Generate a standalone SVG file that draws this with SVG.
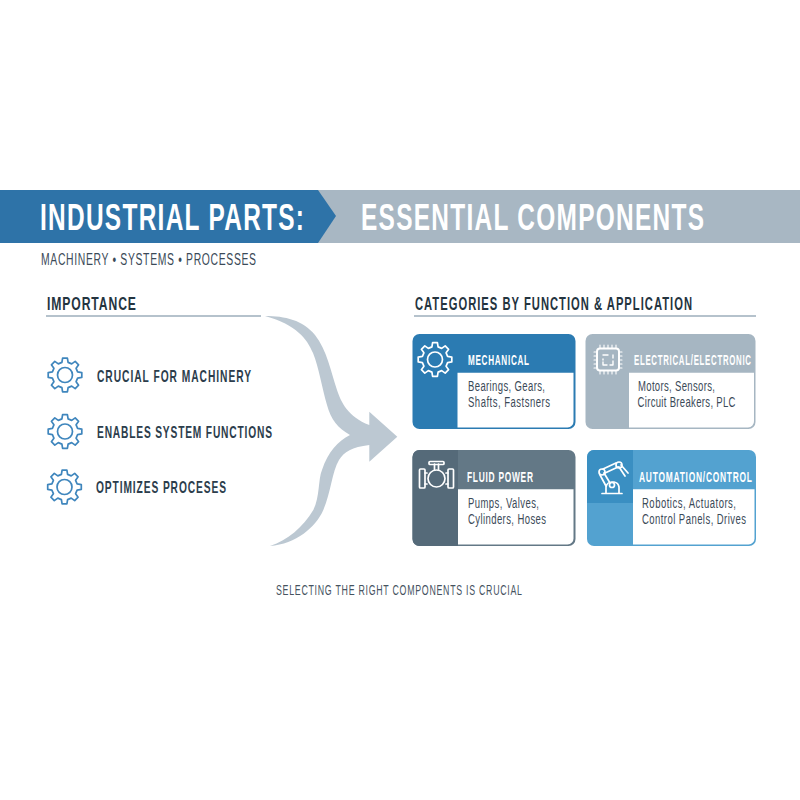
<svg xmlns="http://www.w3.org/2000/svg" width="800" height="800" viewBox="0 0 800 800">
<style>
text{font-family:"Liberation Sans",Arial,sans-serif}
.title{font-size:37px;font-weight:bold;fill:#fff}
.sub{font-size:16.5px;fill:#3b4a58}
.head{font-size:19px;font-weight:bold;fill:#24343f}
.item{font-size:16.5px;font-weight:bold;fill:#2c3d4c}
.ct{font-size:14px;font-weight:bold;fill:#fff}
.cb{font-size:14px;fill:#3b4a58}
.foot{font-size:14px;fill:#46535f}
.rule{stroke:#b5c2cc;stroke-width:2;fill:none}
.gear{fill:none;stroke-width:1.7;stroke-linejoin:round}
.ico{fill:none;stroke:#fff;stroke-width:1.7;stroke-linejoin:round;stroke-linecap:round}
</style>
<defs>
<g id="gear">
<path d="M12.6-3.1L16.8-2.4L16.8 2.4L12.6 3.1L11.1 6.7L13.6 10.2L10.2 13.6L6.7 11.1L3.1 12.6L2.4 16.8L-2.4 16.8L-3.1 12.6L-6.7 11.1L-10.2 13.6L-13.6 10.2L-11.1 6.7L-12.6 3.1L-16.8 2.4L-16.8-2.4L-12.6-3.1L-11.1-6.7L-13.6-10.2L-10.2-13.6L-6.7-11.1L-3.1-12.6L-2.4-16.8L2.4-16.8L3.1-12.6L6.7-11.1L10.2-13.6L13.6-10.2L11.1-6.7Z"/>
<circle r="7.5"/>
</g>
</defs>
<rect width="800" height="800" fill="#fff"/>
<g id="banner">
<rect x="300" y="190" width="500" height="53" fill="#a8b7c3"/>
<polygon points="0,190 318,190 336,216 318,243 0,243" fill="#2e73a8"/>
<text class="title" transform="translate(40 230) scale(.66 1)" textLength="400">INDUSTRIAL PARTS:</text>
<text class="title" transform="translate(361 230) scale(.66 1)" textLength="519.7">ESSENTIAL COMPONENTS</text>
<text class="sub" transform="translate(41 265) scale(.63 1)" textLength="341.3">MACHINERY • SYSTEMS • PROCESSES</text>
</g>
<g id="importance">
<text class="head" transform="translate(47 310) scale(.64 1)" textLength="139">IMPORTANCE</text>
<path class="rule" d="M46 316H261"/>
</g>
<g id="item-1">
<use href="#gear" x="65" y="375" class="gear" stroke="#3f86bd"/>
<text class="item" transform="translate(97 382) scale(.62 1)" textLength="248.400">CRUCIAL FOR MACHINERY</text>
</g>
<g id="item-2">
<use href="#gear" x="65" y="431.5" class="gear" stroke="#3f86bd"/>
<text class="item" transform="translate(97 437.500) scale(.62 1)" textLength="282.300">ENABLES SYSTEM FUNCTIONS</text>
</g>
<g id="item-3">
<use href="#gear" x="64.5" y="487" class="gear" stroke="#3f86bd"/>
<text class="item" transform="translate(96 493) scale(.62 1)" textLength="209.700">OPTIMIZES PROCESES</text>
</g>
<g id="connectors">
<path fill="#bcc8d2" d="M265 316C285 316 303 320 315 335C327 350 331 372 337 390C341 402 348 417 369.3 425V411.7L397.3 436.7L369.3 461.7V445C352 447 344 452 339 460C332 472 331 492 323.3 510C316 527 296 544 270 546C288 540 303 527 313.3 510C320 497 318 479 322 470C328 452 338 441 350 435C338 428 331 420 327 405C322 388 319 368 313 353C307 339 297 325 265 316Z"/>
</g>
<g id="categories">
<text class="head" transform="translate(415 310) scale(.64 1)" textLength="432.800" style="font-size:17.5px">CATEGORIES BY FUNCTION &amp; APPLICATION</text>
<path class="rule" d="M414 316H756"/>
</g>
<g id="card-mechanical">
<rect x="412.5" y="334" width="163" height="95" rx="7" fill="#2b7bb2"/>
<path d="M457.5 372.7H573.5V421a6 6 0 0 1-6 6.5H457.5Z" fill="#fff"/>
<use href="#gear" x="435" y="359.5" class="gear" stroke="#fff"/>
<text class="ct" transform="translate(468 365) scale(.58 1)" textLength="105.200">MECHANICAL</text>
<text class="cb" transform="translate(468 391) scale(.68 1)" textLength="113.200">Bearings, Gears,</text>
<text class="cb" transform="translate(468 407) scale(.68 1)" textLength="120.600">Shafts, Fastsners</text>
</g>
<g id="card-electrical">
<rect x="585.5" y="334" width="170" height="95" rx="7" fill="#a6b6c2"/>
<path d="M629 372.7H754V421a6 6 0 0 1-6 6.5H629Z" fill="#fff"/>
<g class="ico">
<rect x="597" y="348.500" width="22" height="22" rx="3" stroke-width="2"/>
<path d="M603 355h5M613 355v3M613 361v4h-3M607 365h-4v-3M603 360v-1" stroke-width="1.4"/>
<path d="M600 348v-3M604 348v-3M608 348v-3M612 348v-3M616 348v-3M600 371v3M604 371v3M608 371v3M612 371v3M616 371v3M597 352h-3M597 356h-3M597 360h-3M597 364h-3M597 368h-3M619 352h3M619 356h3M619 360h3M619 364h3M619 368h3" stroke-width="1.100"/>
</g>
<text class="ct" transform="translate(634 365) scale(.56 1)" textLength="208.900">ELECTRICAL/ELECTRONIC</text>
<text class="cb" transform="translate(638 391) scale(.68 1)" textLength="113.200">Motors, Sensors,</text>
<text class="cb" transform="translate(637.5 407) scale(.68 1)" textLength="144.100">Circuit Breakers, PLC</text>
</g>
<g id="card-fluid">
<rect x="412.5" y="450" width="163" height="96" rx="7" fill="#637886"/>
<path d="M412.5 457a7 7 0 0 1 7-7H458V546H419.5a7 7 0 0 1-7-7Z" fill="#556a79"/>
<path d="M458 489.3H573.5V538a6 6 0 0 1-6 6.5H458Z" fill="#fff"/>
<g class="ico">
<circle cx="436.500" cy="478.500" r="8.500"/>
<path d="M434.500 470v-6M438.500 470v-6M427 473h-2M427 484h-2M446 473h2M446 484h2"/>
<rect x="429" y="461.500" width="15" height="3" rx="1"/>
<rect x="419.500" y="469" width="5.500" height="19" rx="1"/>
<rect x="448" y="469" width="5.500" height="19" rx="1"/>
</g>
<text class="ct" transform="translate(467 481.500) scale(.6 1)" textLength="110">FLUID POWER</text>
<text class="cb" transform="translate(468 508) scale(.68 1)" textLength="104.400">Pumps, Valves,</text>
<text class="cb" transform="translate(468 524) scale(.68 1)" textLength="114.700">Cylinders, Hoses</text>
</g>
<g id="card-automation">
<rect x="587" y="450" width="169" height="96" rx="7" fill="#53a2d0"/>
<path d="M587 457a7 7 0 0 1 7-7H633V503H587Z" fill="#3a8fc2"/>
<path d="M633 489.300H754.500V538a6 6 0 0 1-6 6.500H633Z" fill="#fff"/>
<g class="ico" stroke-width="1.500">
<path d="M606 493v-6a6 6 0 0 1 6-5h2a6 6 0 0 1 5 5v6M602 493.500h20"/>
<path d="M604 473L610 483M600 475L606 486M603 469L616 463M605 473L618 467M621 465L628 473M619 467L625 476"/>
<circle cx="602" cy="472" r="3"/>
<circle cx="619" cy="465" r="3"/>
<circle cx="612" cy="485" r="2.500"/>
</g>
<text class="ct" transform="translate(639 481.500) scale(.6 1)" textLength="188.300">AUTOMATION/CONTROL</text>
<text class="cb" transform="translate(642 508) scale(.68 1)" textLength="138.200">Robotics, Actuators,</text>
<text class="cb" transform="translate(642 524) scale(.68 1)" textLength="152.900">Control Panels, Drives</text>
</g>
<text class="foot" transform="translate(276 594.500) scale(.63 1)" textLength="390.500">SELECTING THE RIGHT COMPONENTS IS CRUCIAL</text>
</svg>
